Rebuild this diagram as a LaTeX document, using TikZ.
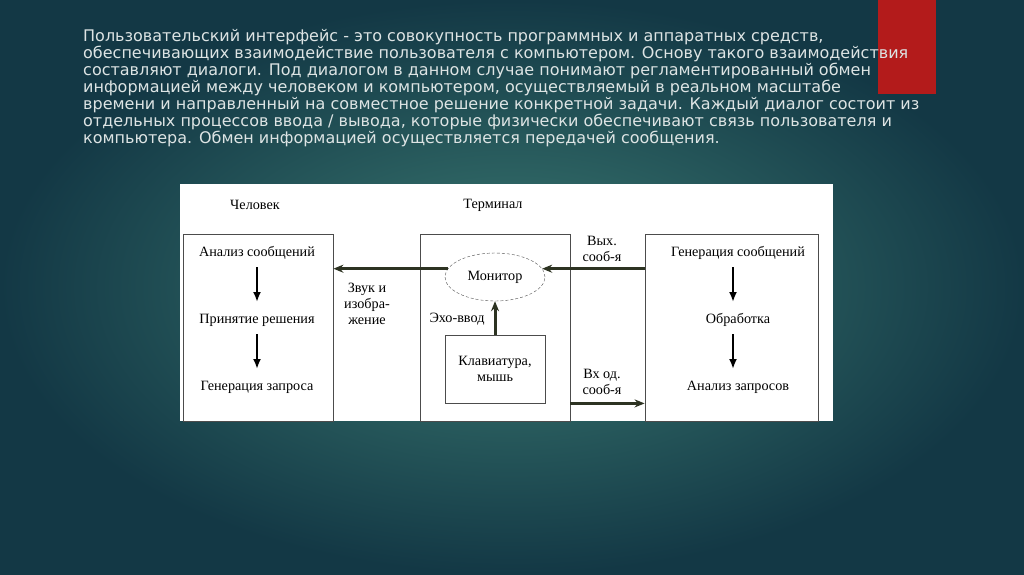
\documentclass[tikz,border=0pt]{standalone}
\usepackage{fontspec}
\setmainfont{Liberation Serif}
\newfontfamily\slidefont{DejaVu Sans}
\usetikzlibrary{shapes.geometric,arrows.meta}
\definecolor{bgdark}{HTML}{133845}
\definecolor{bglight}{HTML}{3B7A72}
\definecolor{slidered}{HTML}{B31B1B}
\definecolor{slidetext}{HTML}{DDE4E4}
\definecolor{arrowdark}{HTML}{2D3322}
\begin{document}
\begin{tikzpicture}[x=1pt,y=-1pt]

    \tikzset{boxstyle/.style={draw=black!70,line width=0.8pt,fill=white,inner sep=0pt},
             lbl/.style={font=\fontsize{14.2}{16}\selectfont,align=center,inner sep=1pt},
             flow/.style={-{Stealth[length=10pt,width=8pt]},line width=3pt,draw=arrowdark},
             down/.style={-{Latex[length=10pt,width=8pt]},line width=2pt,draw=black}}

    % background
    \shade[inner color=bglight,outer color=bgdark] (0,0) rectangle (1024,574);
    \useasboundingbox (0,0) rectangle (1024,574);
    \fill[slidered] (878,0) rectangle (936,94);

    \node[anchor=north west,align=left,text=slidetext,inner sep=0pt,
          font=\slidefont\fontsize{16}{17}\selectfont] (intro) at (83,29)
      {Пользовательский интерфейс - это совокупность программных и аппаратных средств,\\
       обеспечивающих взаимодействие пользователя с компьютером. Основу такого взаимодействия\\
       составляют диалоги. Под диалогом в данном случае понимают регламентированный обмен\\
       информацией между человеком и компьютером, осуществляемый в реальном масштабе\\
       времени и направленный на совместное решение конкретной задачи. Каждый диалог состоит из\\
       отдельных процессов ввода / вывода, которые физически обеспечивают связь пользователя и\\
       компьютера. Обмен информацией осуществляется передачей сообщения.};

    % diagram
    \fill[white] (180,184) rectangle (833,421);
    \node[lbl] (hcap) at (255,205) {Человек};
    \node[lbl] (tcap) at (493,205) {Терминал};

    \node[boxstyle,minimum width=150pt,minimum height=187pt] (human) at (258,327.5) {};
    \node[boxstyle,minimum width=150pt,minimum height=187pt] (term) at (495,327.5) {};
    \node[boxstyle,minimum width=173pt,minimum height=187pt] (host) at (731.5,327.5) {};

    \node[draw=black!70,densely dashed,ellipse,minimum width=100pt,minimum height=48pt,
          inner sep=0pt,lbl] (mon) at (495,277) {Монитор};
    \node[boxstyle,minimum width=100pt,minimum height=68pt,lbl] (kbd) at (495,369)
      {Клавиатура,\\мышь};

    \node[lbl] (h1) at (257,253) {Анализ сообщений};
    \node[lbl] (h2) at (257,320) {Принятие решения};
    \node[lbl] (h3) at (257,387) {Генерация запроса};

    \node[lbl] (r1) at (738,253) {Генерация сообщений};
    \node[lbl] (r2) at (738,320) {Обработка};
    \node[lbl] (r3) at (738,387) {Анализ запросов};

    \node[lbl] (snd) at (367,304) {Звук и\\изобра-\\жение};
    \node[lbl] (echo) at (457,319) {Эхо-ввод};
    \node[lbl] (outm) at (602,249) {Вых.\\сооб-я};
    \node[lbl] (inm) at (602,382) {Вх од.\\сооб-я};

    \begin{scope}[every path/.style={down}]
        \draw (257,267) -- (257,302);
        \draw (257,334) -- (257,369);
        \draw (733,267) -- (733,302);
        \draw (733,334) -- (733,369);
    \end{scope}

    \draw[flow] (mon.170) -- (human.east |- mon.170);
    \draw[flow] (host.west |- mon.10) -- (mon.10);
    \draw[flow] (kbd.north) -- (mon.south);
    \draw[flow] (term.east |- kbd.south) -- (host.west |- kbd.south);
\end{tikzpicture}
\end{document}
